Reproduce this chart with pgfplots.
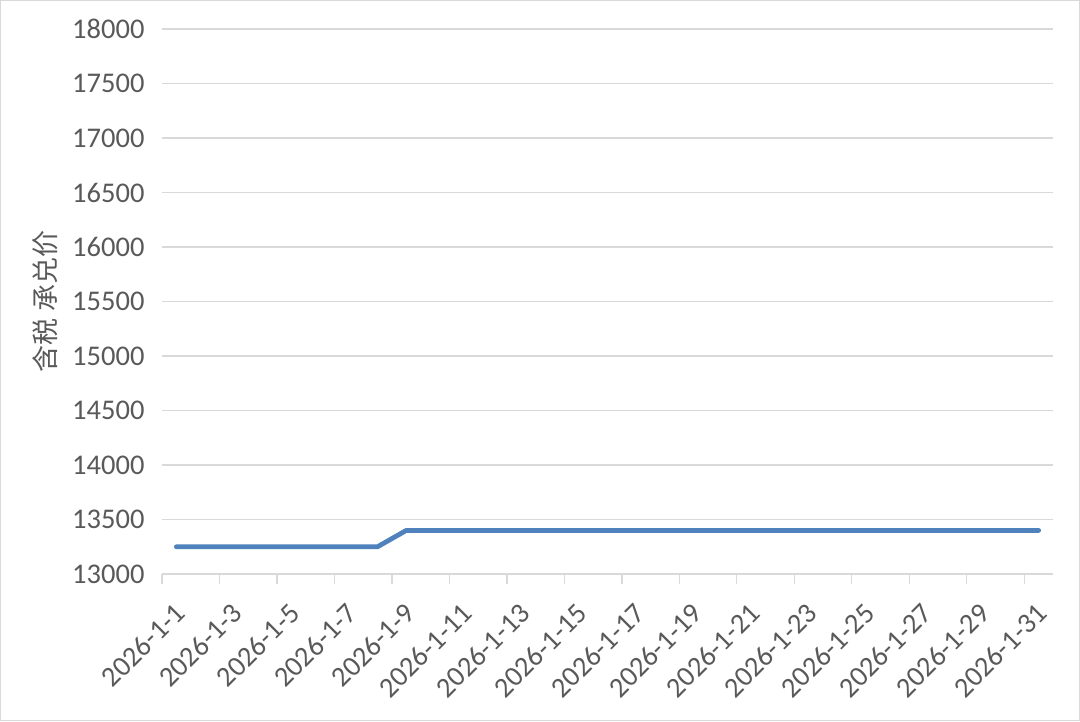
\documentclass[border=0pt]{standalone}
\usepackage{pgfplots}
\pgfplotsset{compat=1.18}
\usepackage{fontspec}
\setmainfont{Carlito}
\newfontfamily\cjk{Noto Sans CJK SC}
\definecolor{linec}{RGB}{79,129,189}
\definecolor{gridc}{RGB}{217,217,217}
\definecolor{txt}{RGB}{89,89,89}
\begin{document}
\begin{tikzpicture}
\path[use as bounding box] (-162pt,-147pt) rectangle (918pt,574pt);
\begin{axis}[
  scale only axis, width=891pt, height=545pt,
  xmin=0.5, xmax=31.5, ymin=13000, ymax=18000,
  scaled y ticks=false,
  ytick={13000,13500,...,18000},
  xtick={1,3,...,31},
  xticklabels={2026-1-1,2026-1-3,2026-1-5,2026-1-7,2026-1-9,2026-1-11,2026-1-13,2026-1-15,2026-1-17,2026-1-19,2026-1-21,2026-1-23,2026-1-25,2026-1-27,2026-1-29,2026-1-31},
  extra x ticks={0.5,2.5,...,30.5},
  extra x tick labels={},
  extra x tick style={major tick length=10pt, tick style={gridc, line width=1.3pt}},
  major tick length=0pt,
  tick align=outside,
  ymajorgrids,
  grid style={gridc, line width=1.3pt},
  axis x line*=bottom, axis y line*=left,
  x axis line style={gridc, line width=1.3pt, -},
  y axis line style={draw=none},
  /pgf/number format/assume math mode=true,
  /pgf/number format/1000 sep={},
  yticklabel style={font=\fontsize{28.5}{32}\selectfont, text=txt, xshift=-14pt},
  xticklabel style={font=\fontsize{28.5}{32}\selectfont, text=txt, yshift=-32pt, xshift=6pt, rotate=45, anchor=east},
  ylabel={{\cjk 含税 承兑价}},
  ylabel style={font=\fontsize{27}{32}\selectfont, text=txt, at={(axis description cs:-0.131,0.5)}, anchor=center},
]
\addplot[linec, line width=4.8pt, line join=round, line cap=round] coordinates {
(1,13250) (2,13250) (3,13250) (4,13250) (5,13250) (6,13250) (7,13250) (8,13250)
(9,13400) (10,13400) (11,13400) (12,13400) (13,13400) (14,13400) (15,13400) (16,13400)
(17,13400) (18,13400) (19,13400) (20,13400) (21,13400) (22,13400) (23,13400) (24,13400)
(25,13400) (26,13400) (27,13400) (28,13400) (29,13400) (30,13400) (31,13400)
};
\end{axis}
\draw[gridc, line width=1.5pt] (-161.25pt,-146.25pt) rectangle (917.25pt,573.25pt);
\end{tikzpicture}
\end{document}
